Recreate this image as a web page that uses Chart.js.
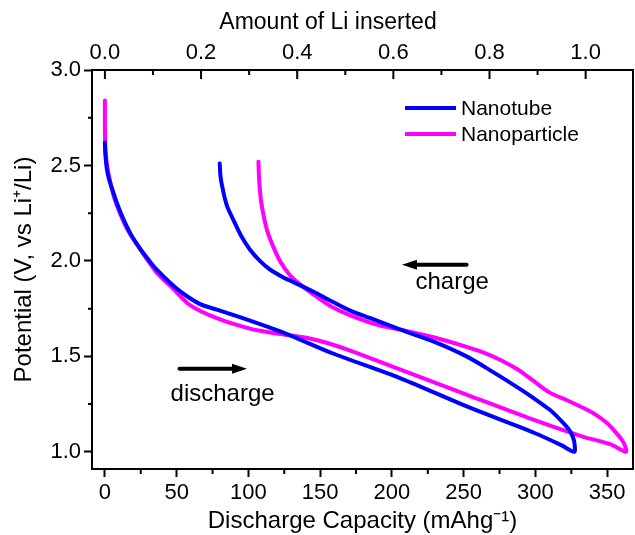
<!DOCTYPE html>
<html>
<head>
<meta charset="utf-8">
<script src="https://cdn.jsdelivr.net/npm/chart.js@4"></script>
<style>
html, body { margin: 0; padding: 0; background: #fff; }
</style>
</head>
<body>
<canvas id="chart" width="635" height="535"></canvas>
<script>
// nanotube electrode: discharge down to 1.0 V, then charge back up (mAh/g, V)
const tubeCap = [0, 0.3, 1.2, 2.8, 5.8, 9, 12.8, 18, 24, 30, 36, 50, 66, 78, 94, 115, 129, 159, 206, 253, 299, 318, 327,
  327.3, 326, 323, 317, 310, 299, 287, 270, 252, 230, 206, 185, 171, 159, 145, 131, 124, 115, 108, 101, 95, 89.5, 85, 82.3, 80.6, 80];
const tubeVolt = [2.62, 2.56, 2.49, 2.43, 2.36, 2.29, 2.22, 2.14, 2.07, 2.01, 1.955, 1.855, 1.775, 1.745, 1.705, 1.65, 1.61, 1.515, 1.385, 1.235, 1.10, 1.035, 1.0,
  1.04, 1.08, 1.12, 1.17, 1.22, 1.28, 1.34, 1.42, 1.50, 1.575, 1.64, 1.70, 1.74, 1.785, 1.84, 1.89, 1.915, 1.955, 2.0, 2.06, 2.13, 2.215, 2.29, 2.37, 2.44, 2.51];

// nanoparticle electrode
const particleCap = [0, 0, 0.4, 1.5, 3.5, 6.5, 10.5, 16, 22, 36, 47.5, 59, 78, 101, 115, 129, 142, 155, 171, 206, 252, 298, 333, 352, 363,
  362.5, 360, 355, 350, 343, 336, 322, 310, 298, 288, 276, 264, 252, 229, 206, 190, 171, 158, 148, 138, 129, 122, 117, 113, 109.5, 108, 107.3, 107];
const particleVolt = [2.84, 2.70, 2.58, 2.50, 2.42, 2.33, 2.25, 2.16, 2.09, 1.94, 1.855, 1.77, 1.70, 1.645, 1.625, 1.61, 1.595, 1.57, 1.53, 1.43, 1.30, 1.17, 1.08, 1.04, 1.0,
  1.03, 1.065, 1.11, 1.15, 1.19, 1.22, 1.27, 1.31, 1.375, 1.43, 1.48, 1.52, 1.55, 1.60, 1.64, 1.665, 1.715, 1.76, 1.81, 1.865, 1.925, 2.0, 2.08, 2.16, 2.28, 2.37, 2.45, 2.52];

const capTicks = [0, 50, 100, 150, 200, 250, 300, 350];
const capMinor = [25, 75, 125, 175, 225, 275, 325];
const voltTicks = [1.0, 1.5, 2.0, 2.5, 3.0];
const voltMinor = [1.25, 1.75, 2.25, 2.75];
const liTicks = [0, 0.2, 0.4, 0.6, 0.8, 1.0];
const liMinor = [0.1, 0.3, 0.5, 0.7, 0.9];

const LI_CAP = 335; // mAh/g for one Li per TiO2
const CAP_MIN = -9, CAP_MAX = 368;
const FONT = "'Liberation Sans', Arial, sans-serif";

Chart.defaults.font.family = FONT;
Chart.defaults.color = '#000';

function points(cap, volt) {
  return cap.map((c, i) => ({ x: c, y: volt[i] }));
}

function arrow(ctx, from, to, py) {
  const dir = Math.sign(to - from);
  const head = 15;
  ctx.lineWidth = 4;
  ctx.lineCap = 'round';
  ctx.beginPath();
  ctx.moveTo(from, py);
  ctx.lineTo(to - dir * head, py);
  ctx.stroke();
  ctx.beginPath();
  ctx.moveTo(to, py);
  ctx.lineTo(to - dir * head, py - 5);
  ctx.lineTo(to - dir * head, py + 5);
  ctx.closePath();
  ctx.fill();
}

// frame, minor ticks, inward top ticks, legend and the charge/discharge labels
const extras = {
  id: 'extras',
  afterDraw(chart) {
    const { ctx, chartArea: a, scales } = chart;
    const { x, x2, y } = scales;
    ctx.save();
    ctx.strokeStyle = '#000';
    ctx.fillStyle = '#000';
    ctx.lineWidth = 2;
    ctx.strokeRect(a.left, a.top, a.right - a.left, a.bottom - a.top);

    ctx.beginPath();
    capMinor.forEach(v => {
      const p = x.getPixelForValue(v);
      ctx.moveTo(p, a.bottom); ctx.lineTo(p, a.bottom + 5);
    });
    voltMinor.forEach(v => {
      const p = y.getPixelForValue(v);
      ctx.moveTo(a.left, p); ctx.lineTo(a.left - 4, p);
    });
    liTicks.forEach(v => {
      const p = x2.getPixelForValue(v);
      ctx.moveTo(p, a.top); ctx.lineTo(p, a.top + 9);
    });
    liMinor.forEach(v => {
      const p = x2.getPixelForValue(v);
      ctx.moveTo(p, a.top); ctx.lineTo(p, a.top + 5);
    });
    ctx.stroke();

    // top axis title
    ctx.font = '23px ' + FONT;
    ctx.textAlign = 'center';
    ctx.textBaseline = 'middle';
    ctx.fillText('Amount of Li inserted', a.left + 236, 23);

    // legend
    ctx.font = '21px ' + FONT;
    ctx.textAlign = 'left';
    chart.data.datasets.forEach((ds, i) => {
      const lx = a.right - 228;
      const ly = a.top + 38 + i * 26;
      ctx.strokeStyle = ds.borderColor;
      ctx.lineWidth = 4;
      ctx.beginPath();
      ctx.moveTo(lx, ly); ctx.lineTo(lx + 51, ly);
      ctx.stroke();
      ctx.fillText(ds.label, lx + 56, ly + 1);
    });

    // direction arrows
    ctx.strokeStyle = '#000';
    arrow(ctx, x.getPixelForValue(252), x.getPixelForValue(207), y.getPixelForValue(1.98));
    arrow(ctx, x.getPixelForValue(52), x.getPixelForValue(99), y.getPixelForValue(1.435));
    ctx.font = '24px ' + FONT;
    ctx.textAlign = 'center';
    ctx.fillText('charge', x.getPixelForValue(242), y.getPixelForValue(1.89));
    ctx.fillText('discharge', x.getPixelForValue(82), y.getPixelForValue(1.30));
    ctx.restore();
  }
};

const lineStyle = {
  pointRadius: 0,
  borderWidth: 4,
  tension: 0.3,
  borderCapStyle: 'round',
  borderJoinStyle: 'round',
  fill: false,
  xAxisID: 'x',
  yAxisID: 'y'
};

new Chart(document.getElementById('chart'), {
  type: 'line',
  data: {
    datasets: [
      { label: 'Nanotube', data: points(tubeCap, tubeVolt), borderColor: '#0000ff', ...lineStyle },
      { label: 'Nanoparticle', data: points(particleCap, particleVolt), borderColor: '#ff00ff', ...lineStyle }
    ]
  },
  options: {
    responsive: false,
    animation: false,
    devicePixelRatio: 1,
    layout: { padding: { right: 2 } },
    plugins: { legend: { display: false }, tooltip: { enabled: false } },
    scales: {
      x: {
        type: 'linear',
        position: 'bottom',
        min: CAP_MIN,
        max: CAP_MAX,
        afterBuildTicks: s => { s.ticks = capTicks.map(v => ({ value: v })); },
        afterFit: s => { s.height = 66; },
        grid: { drawOnChartArea: false, tickLength: 8, tickWidth: 2, tickColor: '#000' },
        border: { color: '#000', width: 2 },
        ticks: { font: { size: 22 }, padding: 3, maxRotation: 0, autoSkip: false },
        title: {
          display: true,
          text: 'Discharge Capacity (mAhg⁻¹)',
          font: { size: 24, lineHeight: 1 },
          padding: { top: 0, bottom: 2 }
        }
      },
      x2: {
        type: 'linear',
        position: 'top',
        min: CAP_MIN / LI_CAP,
        max: CAP_MAX / LI_CAP,
        afterBuildTicks: s => { s.ticks = liTicks.map(v => ({ value: v })); },
        afterFit: s => { s.height = 70; },
        grid: { display: false, drawTicks: false },
        border: { color: '#000', width: 2 },
        ticks: { font: { size: 22 }, padding: 4, maxRotation: 0, autoSkip: false, callback: v => v.toFixed(1) }
      },
      y: {
        type: 'linear',
        min: 0.91,
        max: 3.0,
        afterBuildTicks: s => { s.ticks = voltTicks.map(v => ({ value: v })); },
        afterFit: s => { s.width = 92; },
        grid: { drawOnChartArea: false, tickLength: 8, tickWidth: 2, tickColor: '#000' },
        border: { color: '#000', width: 2 },
        ticks: { font: { size: 22 }, padding: 3, callback: v => v.toFixed(1) },
        title: {
          display: true,
          text: 'Potential (V, vs Li⁺/Li)',
          font: { size: 24, lineHeight: 1 },
          padding: { top: 12, bottom: 0 }
        }
      }
    }
  },
  plugins: [extras]
});
</script>
</body>
</html>
